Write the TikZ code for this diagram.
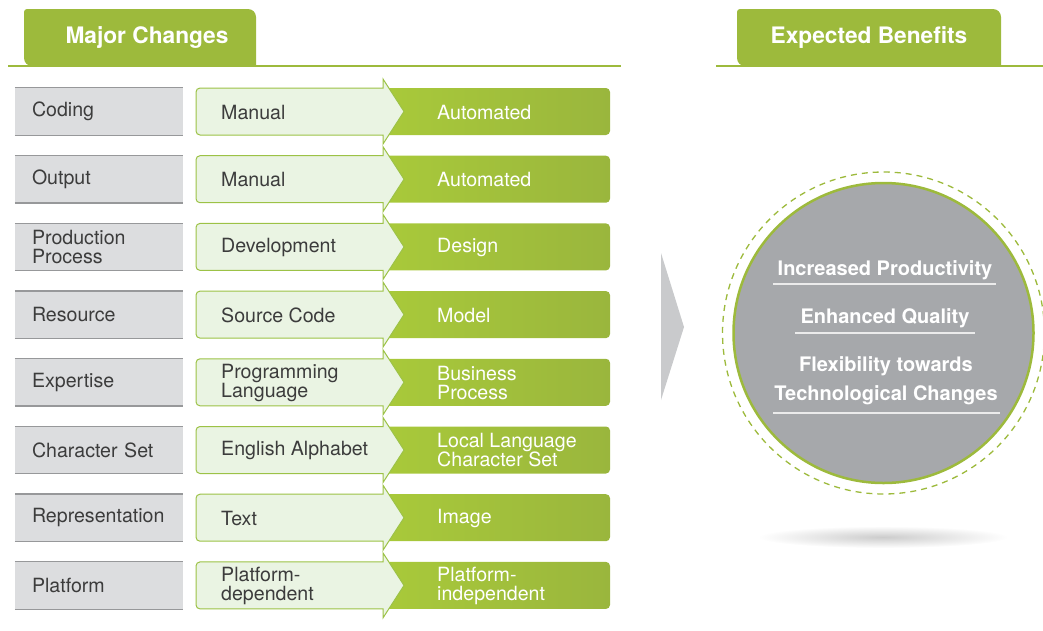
\documentclass[tikz,border=0pt]{standalone}
\usepackage{fontspec}
\setmainfont{TeX Gyre Heros}
\usepackage{xcolor}
\usetikzlibrary{calc}

\definecolor{tabgreen}{HTML}{9DBA3C}
\definecolor{lightgreen}{HTML}{EAF4E3}
\definecolor{edgegreen}{HTML}{9CC246}
\definecolor{newleft}{HTML}{A9CA3A}
\definecolor{newright}{HTML}{9AB63D}
\definecolor{boxgray}{HTML}{DCDDDF}
\definecolor{linegray}{HTML}{97989A}
\definecolor{circgray}{HTML}{A6A8AB}
\definecolor{chevgray}{HTML}{C9CACC}
\definecolor{textdark}{HTML}{3C3C3C}

\begin{document}
\begin{tikzpicture}[x=1pt, y=-1pt,
	headline/.style = {draw=tabgreen, line width=1.6pt},
	tabtext/.style = {text=white, inner sep=0pt, font=\fontsize{22.7}{24}\selectfont\bfseries},
	attrbox/.style = {fill=boxgray, minimum width=168pt, minimum height=47pt, text width=134pt,
		inner xsep=17pt, inner ysep=0pt, align=left, text=textdark, font=\fontsize{19.6}{19}\selectfont},
	attrline/.style = {draw=linegray, line width=1.2pt},
	oldbox/.style = {fill=lightgreen, draw=edgegreen, line width=1pt},
	oldtext/.style = {anchor=west, inner sep=0pt, align=left, text=textdark, font=\fontsize{19.6}{19}\selectfont},
	newtext/.style = {anchor=west, inner sep=0pt, align=left, text=white, font=\fontsize{19.6}{19}\selectfont},
	benefit/.style = {text=white, inner sep=0pt, align=center, font=\fontsize{20}{29}\selectfont\bfseries},
	underline/.style = {draw=white!92!black, line width=1.3pt}]

	\useasboundingbox (0,0) rectangle (1043,630);

	% headers
	\draw[headline] (8,66) -- (621,66);
	\draw[headline] (716,66) -- (1043,66);
	\fill[tabgreen] (256,66) [rounded corners=8pt] -- (256,9) [rounded corners=3pt] -- (24,9) [rounded corners=8pt] -- (24,66) [sharp corners] -- cycle;
	\fill[tabgreen] (1001,66) [rounded corners=8pt] -- (1001,9) [rounded corners=3pt] -- (737,9) [rounded corners=8pt] -- (737,66) [sharp corners] -- cycle;
	\node[tabtext] (major) at (147,38) {Major Changes};
	\node[tabtext] (expected) at (869,38) {Expected Benefits};

	% rows
	\foreach \i/\attr/\old/\new in {
		1/Coding/Manual/Automated,
		2/Output/Manual/Automated,
		3/{Production\\Process}/Development/Design,
		4/Resource/Source Code/Model,
		5/Expertise/{Programming\\Language}/{Business\\Process},
		6/Character Set/English Alphabet/{Local Language\\Character Set},
		7/Representation/Text/Image,
		8/Platform/{Platform-\\dependent}/{Platform-\\independent}} {
		\pgfmathsetmacro{\top}{88+(\i-1)*67.7}
		\node[attrbox] (attr\i) at (99,\top+23.5) {\attr};
		\draw[attrline] (attr\i.north west) -- (attr\i.north east);
		\draw[attrline] (attr\i.south west) -- (attr\i.south east);
		\shade[left color=newleft, right color=newright, rounded corners=4pt] (378,\top) rectangle (610,\top+47);
		\filldraw[oldbox] (196,\top+23.5) [rounded corners=4pt] -- (196,\top) [sharp corners] -- (383,\top) -- (383,\top-9)
			-- (404,\top+23.5) -- (383,\top+56) -- (383,\top+47) [rounded corners=4pt] -- (196,\top+47) -- cycle;
		\node[oldtext] (old\i) at (221,\top+24) {\old};
		\node[newtext] (new\i) at (437,\top+24) {\new};
	}

	% chevron
	\fill[chevgray] (661,253) -- (684,327) -- (661,400) -- cycle;

	% benefits circle
	\shade[inner color=black!20, outer color=white] (883,537) ellipse (125 and 11);
	\draw[tabgreen, line width=1.3pt, dash pattern=on 6pt off 5pt] (883.5,333) circle (161);
	\node[circle, fill=circgray, draw=tabgreen, line width=2.5pt, minimum size=300pt, inner sep=0pt] (hub) at (883.5,333) {};
	\node[benefit] (ben1) at (885,270) {Increased Productivity};
	\node[benefit] (ben2) at (885,318) {Enhanced Quality};
	\node[benefit] (ben3) at (886,381) {Flexibility towards\\Technological Changes};
	\draw[underline] (773,284) -- (996,284);
	\draw[underline] (795,333) -- (975,333);
	\draw[underline] (773,413) -- (1000,413);
\end{tikzpicture}
\end{document}
